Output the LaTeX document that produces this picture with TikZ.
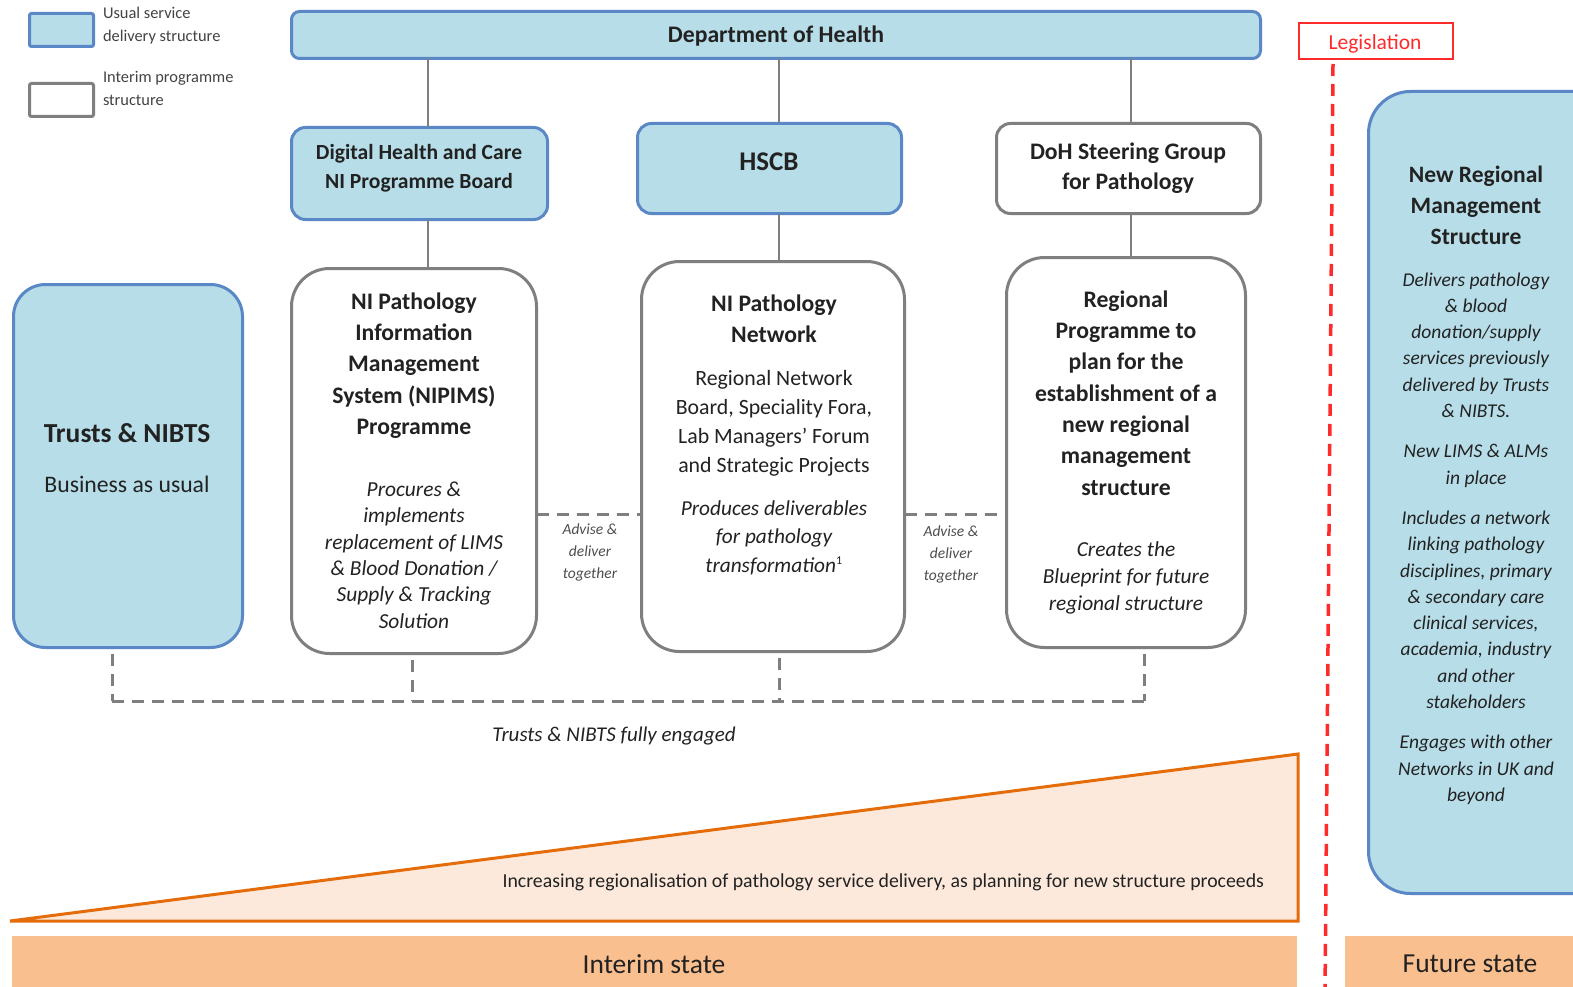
\documentclass[tikz,border=0pt]{standalone}
\usepackage{fontspec}
\setmainfont{Carlito}
\usetikzlibrary{calc}
\definecolor{bfill}{HTML}{B7DDE8}
\definecolor{bline}{HTML}{5A87C5}
\definecolor{gline}{HTML}{7F7F7F}
\definecolor{txt}{HTML}{222222}
\definecolor{trifill}{HTML}{FCE9DB}
\definecolor{triline}{HTML}{E46C0A}
\definecolor{barfill}{HTML}{F9BF8F}
\definecolor{legred}{HTML}{FF2A2A}
\newcommand{\fsz}[2]{\fontsize{#1}{#2}\selectfont}
\begin{document}
\begin{tikzpicture}[x=1pt,y=-1pt,
  every node/.style={inner sep=0pt, outer sep=0pt, text=txt, align=center},
  bluebox/.style={draw=bline, fill=bfill, line width=3pt},
  graybox/.style={draw=gline, fill=white, line width=3pt},
  conn/.style={draw=gline, line width=1.5pt},
  dashline/.style={draw=gline, line width=3pt, dash pattern=on 12pt off 8pt},
  head/.style={font=\bfseries\fsz{23.7}{31.3}},
  body/.style={font=\fsz{21.8}{29}},
  itbody/.style={font=\itshape\fsz{21.4}{26.4}},
  advise/.style={font=\itshape\fsz{15.5}{22}, text=txt!80},
  legendtxt/.style={font=\fsz{16.4}{23}, text=txt!85, align=left, anchor=west}]
\clip (0,0) rectangle (1573,987);
\fill[white] (0,0) rectangle (1573,987);
% legend
\node[bluebox, minimum width=64pt, minimum height=33pt, rounded corners=2pt] (legb) at (61.5,30) {};
\node[legendtxt] (legbt) at (103,25.5) {Usual service\\delivery structure};
\node[graybox, minimum width=64pt, minimum height=33pt, rounded corners=2pt] (legg) at (61.5,100) {};
\node[legendtxt] (leggt) at (103,88.5) {Interim programme\\structure};
% boxes
\node[bluebox, minimum width=969pt, minimum height=47pt, rounded corners=8pt] (doh) at (776,35) {};
\node[font=\bfseries\fsz{23.7}{30}] (doht) at (776,36) {Department of Health};
\node[bluebox, minimum width=256pt, minimum height=92pt, rounded corners=14pt] (dig) at (419.5,173.5) {};
\node[font=\bfseries\fsz{21.6}{29}] (digt) at (419,168.5) {Digital Health and Care\\NI Programme Board};
\node[bluebox, minimum width=264pt, minimum height=90pt, rounded corners=14pt] (hscb) at (769.5,168.5) {};
\node[font=\bfseries\fsz{27}{30}] (hscbt) at (769,162) {HSCB};
\node[graybox, minimum width=264pt, minimum height=90pt, rounded corners=14pt] (steer) at (1128.5,168.5) {};
\node[font=\bfseries\fsz{23.7}{30}] (steert) at (1128,168) {DoH Steering Group\\for Pathology};
\node[bluebox, minimum width=229pt, minimum height=363pt, rounded corners=32pt] (trusts) at (128,466) {};
\node[font=\bfseries\fsz{27.5}{30}] (trustst) at (127,433) {Trusts \& NIBTS};
\node[font=\fsz{23.7}{30}] (trustsb) at (127,484) {Business as usual};
\node[graybox, minimum width=245pt, minimum height=385pt, rounded corners=38pt] (nipims) at (414,461) {};
\node[head] (nipimst) at (414,365.5) {NI Pathology\\Information\\Management\\System (NIPIMS)\\Programme};
\node[itbody] (nipimsi) at (414,555) {Procures \&\\implements\\replacement of LIMS\\\& Blood Donation /\\Supply \& Tracking\\Solution};
\node[graybox, minimum width=263pt, minimum height=390pt, rounded corners=38pt] (net) at (773,456.5) {};
\node[head] (nett) at (774,318.5) {NI Pathology\\Network};
\node[body] (netb) at (774,423.5) {Regional Network\\Board, Speciality Fora,\\Lab Managers’ Forum\\and Strategic Projects};
\node[itbody, font=\itshape\fsz{21.3}{28.5}] (neti) at (774,537.5) {Produces deliverables\\for pathology\\transformation$^{\textup{\fontsize{12}{12}\selectfont 1}}$};
\node[graybox, minimum width=239pt, minimum height=390pt, rounded corners=38pt] (reg) at (1126,452.5) {};
\node[head] (regt) at (1126,393) {Regional\\Programme to\\plan for the\\establishment of a\\new regional\\management\\structure};
\node[itbody, font=\itshape\fsz{21.4}{27}] (regi) at (1126,578) {Creates the\\Blueprint for future\\regional structure};
\node[bluebox, minimum width=250pt, minimum height=802pt, rounded corners=42pt] (newreg) at (1493.5,492.5) {};
\node[head, font=\bfseries\fsz{23.5}{31}] (newregt) at (1476,205) {New Regional\\Management\\Structure};
\node[font=\itshape\fsz{19.5}{26.3}] (newregi) at (1476,538.5) {Delivers pathology\\\& blood\\donation/supply\\services previously\\delivered by Trusts\\\& NIBTS.\\[14pt]New LIMS \& ALMs\\in place\\[14pt]Includes a network\\linking pathology\\disciplines, primary\\\& secondary care\\clinical services,\\academia, industry\\and other\\stakeholders\\[14pt]Engages with other\\Networks in UK and\\beyond};
% legislation
\node[draw=legred, line width=2pt, minimum width=154pt, minimum height=36pt] (leg) at (1376,41) {};
\node[font=\fsz{21.5}{24}, text=legred] (legt) at (1375,44) {Legislation};
\coordinate (legtop) at (1333,64);
\coordinate (legbot) at (1325,995);
\draw[legred, line width=3.5pt, dash pattern=on 12pt off 8pt] (legtop) -- (legbot);
% solid connectors
\coordinate (c1) at (428,0);
\coordinate (c2) at (779,0);
\coordinate (c3) at (1131,0);
\draw[conn] (c1 |- doh.south) -- (c1 |- dig.north);
\draw[conn] (c1 |- dig.south) -- (c1 |- nipims.north);
\draw[conn] (c2 |- doh.south) -- (c2 |- hscb.north);
\draw[conn] (c2 |- hscb.south) -- (c2 |- net.north);
\draw[conn] (c3 |- doh.south) -- (c3 |- steer.north);
\draw[conn] (c3 |- steer.south) -- (c3 |- reg.north);
% advise connectors
\coordinate (a1) at (590,514);
\coordinate (a2) at (951,514);
\draw[dashline] (a1 -| nipims.east) -- (a1 -| net.west);
\draw[dashline] (a2 -| net.east) -- (a2 -| reg.west);
\node[advise] (a1t) at (590,552) {Advise \&\\deliver\\together};
\node[advise] (a2t) at (951,554) {Advise \&\\deliver\\together};
% engagement bus
\coordinate (b1) at (112,701);
\coordinate (b2) at (412,701);
\coordinate (b3) at (779,701);
\coordinate (b4) at (1144,701);
\draw[dashline, dash phase=-6pt] (b1 |- trusts.south) -- (b1);
\draw[dashline, dash phase=-6pt] (b2 |- nipims.south) -- (b2);
\draw[dashline, dash phase=-6pt] (b3 |- net.south) -- (b3);
\draw[dashline, dash phase=-6pt] (b4 |- reg.south) -- (b4);
\draw[dashline] (b1) -- (b4);
\node[font=\itshape\fsz{21}{24}] (eng) at (614,736) {Trusts \& NIBTS fully engaged};
% triangle
\coordinate (t1) at (10,921);
\coordinate (t2) at (1298,921);
\coordinate (t3) at (1298,754);
\draw[fill=trifill, draw=triline, line width=3pt, line join=miter] (t1) -- (t2) -- (t3) -- cycle;
\node[font=\fsz{19.8}{22}, anchor=east] (trit) at (1264,882) {Increasing regionalisation of pathology service delivery, as planning for new structure proceeds};
% state bars
\node[fill=barfill, minimum width=1285pt, minimum height=60pt] (interim) at (654.5,966) {};
\node[font=\fsz{27.5}{30}] (interimt) at (654,964) {Interim state};
\node[fill=barfill, minimum width=275pt, minimum height=60pt] (future) at (1482.5,966) {};
\node[font=\fsz{27.5}{30}] (futuret) at (1470,964) {Future state};
\end{tikzpicture}
\end{document}
